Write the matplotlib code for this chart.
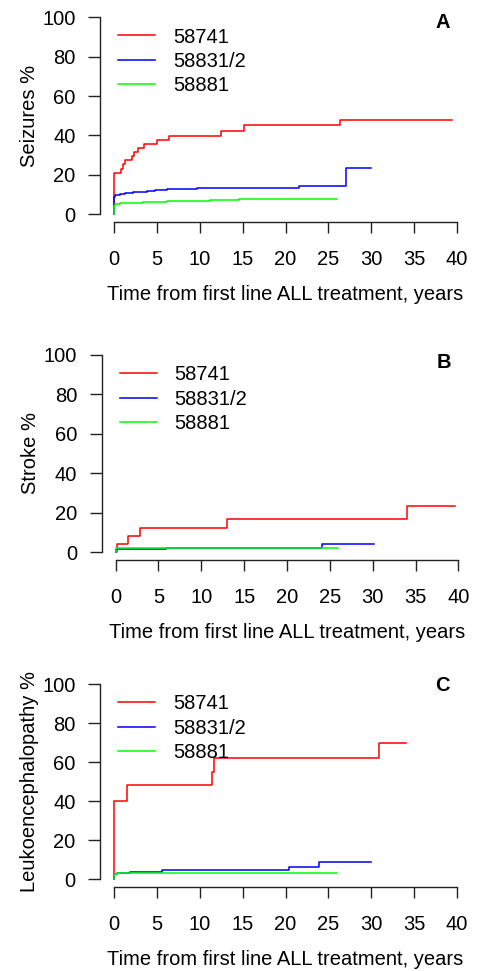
import matplotlib
matplotlib.use("Agg")
import matplotlib.pyplot as plt

plt.rcParams["font.family"] = ["Liberation Sans", "DejaVu Sans"]

groups = ["58741", "58831/2", "58881"]
colors = ["#FF0000", "#0000FF", "#00FF00"]
xticks = [0, 5, 10, 15, 20, 25, 30, 35, 40]
yticks = [0, 20, 40, 60, 80, 100]
xlabel = "Time from first line ALL treatment, years"

# panel A - seizures
a_red_t = [0, 0, 0.78, 1.09, 1.28, 2.06, 2.29, 2.76, 3.54, 4.97, 6.41, 12.43, 15.15, 26.34, 39.47]
a_red_y = [0, 20.8, 22.9, 25.3, 27.3, 29.3, 31.4, 33.4, 35.6, 37.6, 39.8, 42.2, 45.1, 47.8, 47.8]
a_blue_t = [0, 0, 0.12, 0.7, 1.28, 2.25, 2.95, 3.81, 4.78, 6.14, 9.64, 21.6, 27.0, 30.0]
a_blue_y = [0, 8.8, 9.5, 10.0, 10.5, 11.0, 11.3, 11.9, 12.2, 12.7, 13.4, 14.4, 23.5, 23.5]
a_green_t = [0, 0, 0.12, 0.7, 1.86, 3.42, 6.14, 11.2, 14.6, 25.95]
a_green_y = [0, 4.2, 4.9, 5.4, 5.9, 6.3, 6.6, 7.1, 7.7, 7.7]

# panel B - stroke
b_red_t = [0, 0.12, 1.48, 2.84, 12.98, 33.95, 39.57]
b_red_y = [0, 4.2, 8.3, 12.0, 16.6, 23.4, 23.4]
b_blue_t = [0, 0, 5.9, 24.1, 30.1]
b_blue_y = [0, 1.3, 1.9, 3.9, 3.9]
b_green_t = [0, 0.1, 6.1, 26.0]
b_green_y = [0, 1.9, 2.2, 2.2]

# panel C - leukoencephalopathy
c_red_t = [0, 0, 0.04, 1.48, 11.38, 11.66, 30.93, 34.11]
c_red_y = [0, 32, 40.1, 48.2, 55, 62.2, 69.9, 69.9]
c_blue_t = [0, 0, 0.3, 1.86, 5.59, 20.4, 23.9, 30.0]
c_blue_y = [0, 2.5, 3.2, 3.8, 4.4, 6.2, 8.5, 8.5]
c_green_t = [0, 0, 0.31, 9.25, 25.95]
c_green_y = [0, 2.4, 2.9, 3.3, 3.3]

panels = [
    ("Seizures %", "A", [(a_red_t, a_red_y), (a_blue_t, a_blue_y), (a_green_t, a_green_y)]),
    ("Stroke %", "B", [(b_red_t, b_red_y), (b_blue_t, b_blue_y), (b_green_t, b_green_y)]),
    ("Leukoencephalopathy %", "C", [(c_red_t, c_red_y), (c_blue_t, c_blue_y), (c_green_t, c_green_y)]),
]

W, H = 482, 971
fig = plt.figure(figsize=(W / 100, H / 100), dpi=100)
# axes boxes in pixels: left, top, right, bottom
boxes = [(100.3, 9.4, 470.7, 222.0), (101.8, 347.1, 472.2, 559.9), (100.3, 676.2, 470.7, 886.8)]
letter_y = [97.3, 96.0, 99.0]
fs = 14.5

for (ylab, letter, series), (l, t, r, b), ly in zip(panels, boxes, letter_y):
    ax = fig.add_axes([l / W, 1 - b / H, (r - l) / W, (b - t) / H])
    for (tt, yy), c, g in zip(series, colors, groups):
        ax.step(tt, yy, where="post", color=c, lw=1.1, label=g)
    ax.set_xlim(-1.6, 41.6)
    ax.set_ylim(-4, 104)
    for s in ["top", "right"]:
        ax.spines[s].set_visible(False)
    ax.spines["left"].set_bounds(0, 100)
    ax.spines["bottom"].set_bounds(0, 40)
    for s in ["left", "bottom"]:
        ax.spines[s].set_color("#222222")
        ax.spines[s].set_linewidth(1.0)
    ax.set_xticks(xticks)
    ax.set_yticks(yticks)
    ax.tick_params(axis="x", length=8, width=1.0, color="#222222", pad=12.5, labelsize=fs)
    ax.tick_params(axis="y", length=8.5, width=1.0, color="#222222", pad=9.2, labelsize=fs)
    ax.set_xlabel(xlabel, fontsize=fs, labelpad=11)
    ax.set_ylabel(ylab, fontsize=fs, labelpad=2.5)
    ax.text(38.3, ly, letter, fontsize=fs, fontweight="bold", ha="center", va="center")
    ax.legend(loc="upper left", bbox_to_anchor=(0.47, 94.8), bbox_transform=ax.transData,
              frameon=False, borderpad=0, borderaxespad=0, handlelength=1.84,
              handletextpad=0.9, labelspacing=0.27, fontsize=fs)

fig.savefig("out.png", dpi=100)
